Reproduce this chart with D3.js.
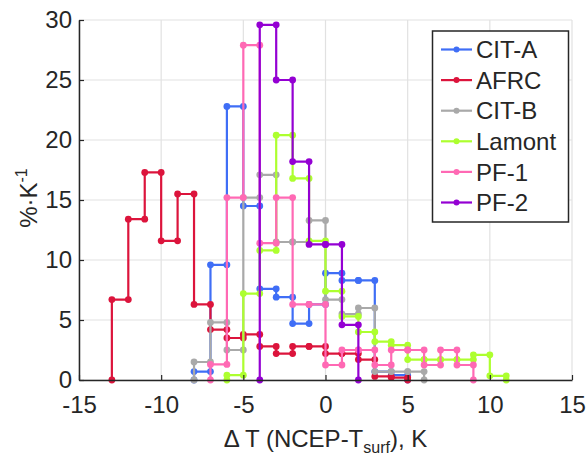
<!DOCTYPE html>
<html>
<head>
<meta charset="utf-8">
<script src="https://cdnjs.cloudflare.com/ajax/libs/d3/7.8.5/d3.min.js"></script>
<style>
    body { margin: 0; background: #fff; }
    text { font-family: "Liberation Sans", Arial, Helvetica, sans-serif; fill: #262626; }
</style>
</head>
<body>
<div id="chart"></div>
<script>
// legend order = draw order
var seriesNames = ["CIT-A", "AFRC", "CIT-B", "Lamont", "PF-1", "PF-2"];
var seriesColors = ["#3f6ef6", "#dc143c", "#a9a9a9", "#adff2f", "#ff69b4", "#9400d3"];

// left edge of first 1 K bin for each series
var binStart = [-8, -13, -8, -6, -7, -4];

// bin heights, %/K
var citA   = [0.7, 9.6, 22.8, 14.5, 7.6, 6.9, 4.7, 6.3, 8.9, 8.3, 8.3, 0.7, 0.4];
var afrc   = [6.7, 13.4, 17.3, 11.6, 15.5, 6.3, 4.2, 3.5, 3.8, 2.8, 2.2, 2.8, 2.8, 2.2, 2.2, 1.7, 0.3, 0.2];
var citB   = [1.5, 4.8, 2.5, 15.2, 17.1, 11.5, 11.5, 13.3, 6.7, 5.5, 6.0, 0.7, 0.7, 0.7];
var lamont = [0.4, 7.2, 10.8, 20.4, 16.8, 11.6, 7.4, 5.3, 4.0, 3.2, 2.9, 1.7, 1.7, 1.7, 1.7, 2.1, 0.35];
var pf1    = [1.3, 15.2, 27.9, 11.4, 15.2, 6.3, 6.3, 1.25, 2.5, 2.5, 1.25, 2.5, 2.5, 1.25, 2.5, 1.25];
var pf2    = [29.6, 25.0, 18.2, 11.3, 11.3, 4.6];

var seriesValues = [citA, afrc, citB, lamont, pf1, pf2];

var xTicks = [-15, -10, -5, 0, 5, 10, 15];
var yTicks = [0, 5, 10, 15, 20, 25, 30];

var margin = {top: 20, right: 15, bottom: 75, left: 79};
var width = 587 - margin.left - margin.right,
    height = 455 - margin.top - margin.bottom;
var fontSize = 24;

var svg = d3.select("#chart").append("svg")
    .attr("width", 587)
    .attr("height", 455);

var g = svg.append("g")
    .attr("transform", "translate(" + margin.left + "," + margin.top + ")");

var x = d3.scaleLinear().domain([-15, 15]).range([0, width]);
var y = d3.scaleLinear().domain([0, 30]).range([height, 0]);

// grid
g.selectAll(".gx").data(xTicks).enter().append("line")
    .attr("x1", function(d) { return x(d); })
    .attr("x2", function(d) { return x(d); })
    .attr("y1", 0).attr("y2", height)
    .attr("stroke", "#e1e1e1").attr("stroke-width", 1.2);
g.selectAll(".gy").data(yTicks).enter().append("line")
    .attr("y1", function(d) { return y(d); })
    .attr("y2", function(d) { return y(d); })
    .attr("x1", 0).attr("x2", width)
    .attr("stroke", "#e1e1e1").attr("stroke-width", 1.2);

// histogram as stairs, a marker on every corner
function stairs(start, vals) {
    var pts = [[start, 0]];
    vals.forEach(function(v, i) {
        pts.push([start + i, v]);
        pts.push([start + i + 1, v]);
    });
    pts.push([start + vals.length, 0]);
    return pts;
}

var line = d3.line()
    .x(function(d) { return x(d[0]); })
    .y(function(d) { return y(d[1]); });

seriesValues.forEach(function(vals, i) {
    var pts = stairs(binStart[i], vals);
    var s = g.append("g");
    s.append("path")
        .datum(pts)
        .attr("d", line)
        .attr("fill", "none")
        .attr("stroke", seriesColors[i])
        .attr("stroke-width", 2.2)
        .attr("stroke-linejoin", "round");
    s.selectAll("circle").data(pts).enter().append("circle")
        .attr("cx", function(d) { return x(d[0]); })
        .attr("cy", function(d) { return y(d[1]); })
        .attr("r", 3.4)
        .attr("fill", seriesColors[i]);
});

// axes, ticks pointing inwards, plain hyphen for negatives
var plain = function(d) { return String(d); };
var xAxis = g.append("g")
    .attr("transform", "translate(0," + height + ")")
    .call(d3.axisBottom(x).tickValues(xTicks).tickFormat(plain)
        .tickSizeInner(-5).tickSizeOuter(0).tickPadding(16));
var yAxis = g.append("g")
    .call(d3.axisLeft(y).tickValues(yTicks).tickFormat(plain)
        .tickSizeInner(-5).tickSizeOuter(0).tickPadding(7));

[xAxis, yAxis].forEach(function(a) {
    a.select(".domain").attr("stroke", "#262626").attr("stroke-width", 1.5);
    a.selectAll(".tick line").attr("stroke", "#262626").attr("stroke-width", 1.2);
    a.selectAll(".tick text").attr("font-size", fontSize).attr("fill", "#262626")
        .attr("font-family", "Liberation Sans, Arial, sans-serif");
});

// axis titles
var xt = svg.append("text")
    .attr("x", margin.left + x(0))
    .attr("y", 447)
    .attr("text-anchor", "middle")
    .attr("font-size", fontSize);
xt.append("tspan").text("\u0394 T (NCEP-T");
xt.append("tspan").attr("font-size", 16).attr("dy", 6).text("surf");
xt.append("tspan").attr("dy", -6).text("), K");

var yt = svg.append("text")
    .attr("transform", "translate(37,198) rotate(-90)")
    .attr("text-anchor", "middle")
    .attr("font-size", fontSize);
yt.append("tspan").text("%\u00b7K");
yt.append("tspan").attr("font-size", 16).attr("dy", -10).text("-1");

// legend
var lg = svg.append("g");
lg.append("rect")
    .attr("x", 432.5).attr("y", 31)
    .attr("width", 136).attr("height", 191)
    .attr("fill", "#fff")
    .attr("stroke", "#262626").attr("stroke-width", 1.5);

seriesNames.forEach(function(name, i) {
    var ly = 49.5 + i * 30.6;
    lg.append("line")
        .attr("x1", 441).attr("x2", 472)
        .attr("y1", ly).attr("y2", ly)
        .attr("stroke", seriesColors[i]).attr("stroke-width", 2.2);
    lg.append("circle")
        .attr("cx", 456.5).attr("cy", ly).attr("r", 3)
        .attr("fill", seriesColors[i]);
    lg.append("text")
        .attr("x", 476).attr("y", ly)
        .attr("dy", "0.36em")
        .attr("font-size", fontSize)
        .text(name);
});
</script>
</body>
</html>
